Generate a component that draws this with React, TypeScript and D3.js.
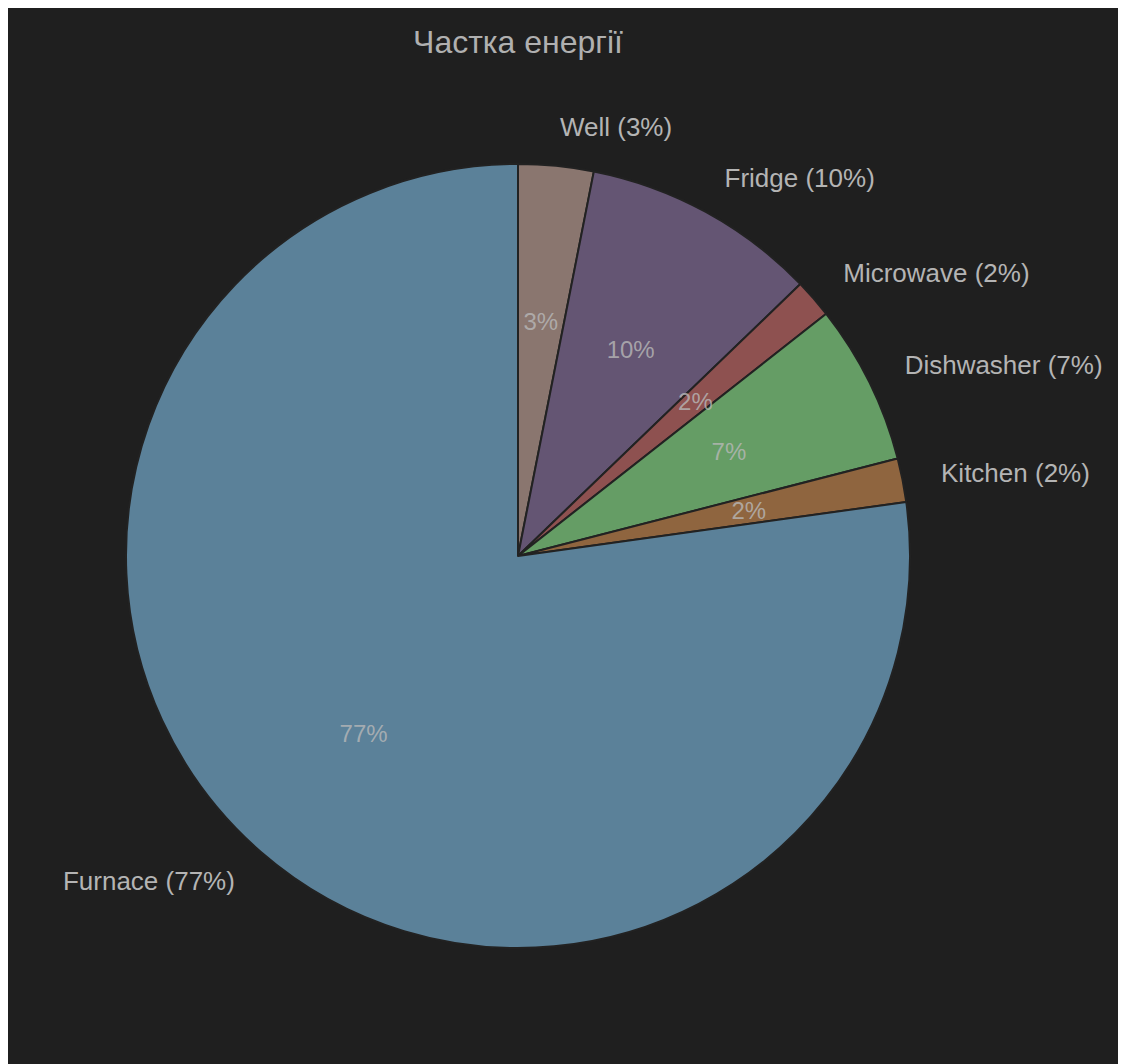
import React, { useEffect } from "react";
import * as d3 from "d3";

const categories = ["Well", "Fridge", "Microwave", "Dishwasher", "Kitchen", "Furnace"];
const values = [3.1, 9.7, 1.6, 6.6, 1.8, 77.2];
const colors = ["#8a766f", "#645573", "#8e5150", "#659d65", "#8f653f", "#5b8199"];
const title = "Частка енергії";

const W = 1140;
const H = 1070;
const cx = 510;
const cy = 548;
const R = 392;

export default function App() {
  useEffect(() => {
    document.documentElement.style.overflow = "hidden";
    document.body.style.overflow = "hidden";
  }, []);
  const total = d3.sum(values);
  const data = categories.map((c, i) => ({ name: c, value: values[i], color: colors[i] }));
  const pie = d3.pie<any>().value((d) => d.value).sort(null);
  const arcs = pie(data);
  const arc = d3.arc<any>().innerRadius(0).outerRadius(R);
  const font = "Liberation Sans, Arial, Helvetica, sans-serif";

  return (
    <svg width={W} height={H} style={{ display: "block", background: "#1f1f1f" }}>
      <rect x={0} y={0} width={W} height={H} fill="#1f1f1f" />
      <text x={cx} y={34} textAnchor="middle" dominantBaseline="central" fill="#b0b0b0" fontSize={32} fontFamily={font}>
        {title}
      </text>
      <g transform={`translate(${cx},${cy})`}>
        {arcs.map((a, i) => (
          <path key={i} d={arc(a) as string} fill={a.data.color} stroke="#222222" strokeWidth={2} strokeLinejoin="round" />
        ))}
        {arcs.map((a, i) => {
          const mid = (a.startAngle + a.endAngle) / 2;
          const pct = Math.round((a.data.value / total) * 100);
          const lr = R * 1.1;
          const ir = R * 0.6;
          const lx = lr * Math.sin(mid);
          const ly = -lr * Math.cos(mid);
          const ix = ir * Math.sin(mid);
          const iy = -ir * Math.cos(mid);
          return (
            <g key={"l" + i}>
              <text x={lx} y={ly} textAnchor={lx >= 0 ? "start" : "end"} dominantBaseline="central" fill="#b4b4b4" fontSize={26} fontFamily={font}>
                {`${a.data.name} (${pct}%)`}
              </text>
              <text x={ix} y={iy} textAnchor="middle" dominantBaseline="central" fill="#b8b8b8" fillOpacity={0.8} fontSize={24} fontFamily={font}>
                {`${pct}%`}
              </text>
            </g>
          );
        })}
      </g>
    </svg>
  );
}
